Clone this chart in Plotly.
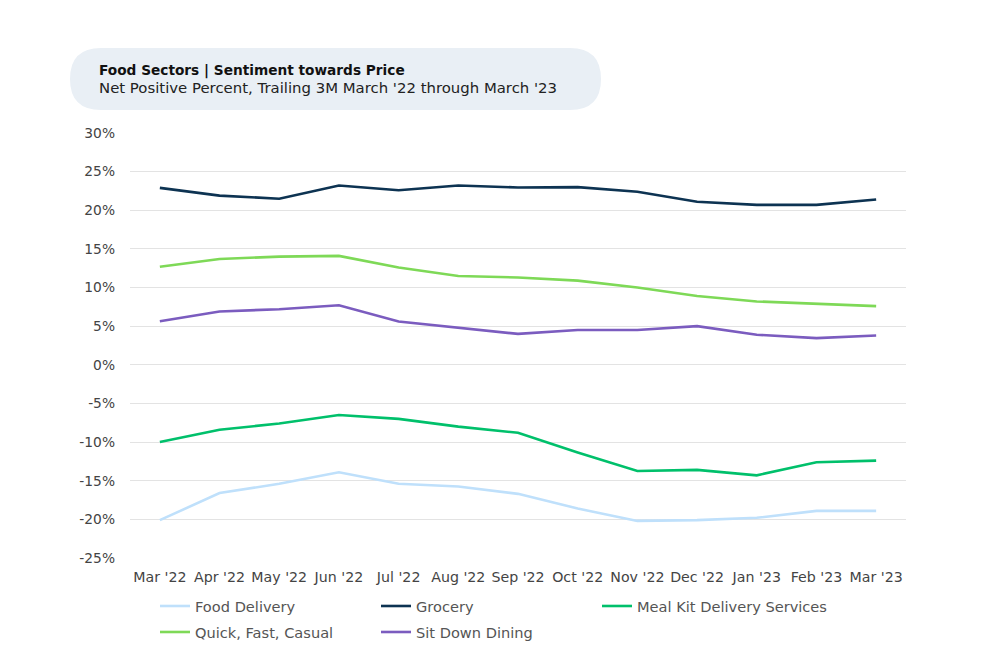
import plotly.graph_objects as go

months = ["Mar '22", "Apr '22", "May '22", "Jun '22", "Jul '22", "Aug '22", "Sep '22",
          "Oct '22", "Nov '22", "Dec '22", "Jan '23", "Feb '23", "Mar '23"]

food_delivery = [-20.1, -16.6, -15.4, -13.9, -15.4, -15.75, -16.7, -18.6, -20.2, -20.1, -19.8, -18.9, -18.9]
grocery = [22.9, 21.9, 21.5, 23.2, 22.6, 23.2, 22.95, 23.0, 22.4, 21.1, 20.7, 20.7, 21.4]
meal_kit = [-10.0, -8.4, -7.6, -6.5, -7.0, -8.0, -8.8, -11.35, -13.75, -13.6, -14.3, -12.6, -12.4]
quick = [12.7, 13.7, 14.0, 14.1, 12.6, 11.5, 11.3, 10.9, 10.0, 8.9, 8.2, 7.9, 7.6]
sit_down = [5.65, 6.9, 7.2, 7.7, 5.6, 4.8, 4.0, 4.5, 4.5, 5.0, 3.9, 3.45, 3.8]

y_ticks = [30, 25, 20, 15, 10, 5, 0, -5, -10, -15, -20, -25]
y_tick_labels = ["30%", "25%", "20%", "15%", "10%", "5%", "0%", "-5%", "-10%", "-15%", "-20%", "-25%"]

series = [
    ("Food Delivery", food_delivery, "#bfe0fb", "legend"),
    ("Grocery", grocery, "#0d3352", "legend"),
    ("Meal Kit Delivery Services", meal_kit, "#00c06b", "legend3"),
    ("Quick, Fast, Casual", quick, "#7ed957", "legend2"),
    ("Sit Down Dining", sit_down, "#7b5cbf", "legend2"),
]

title = "Food Sectors | Sentiment towards Price"
subtitle = "Net Positive Percent, Trailing 3M March '22 through March '23"

FONT = "DejaVu Sans"

fig = go.Figure()
for name, vals, color, lg in series:
    fig.add_trace(go.Scatter(x=months, y=vals, mode="lines", name=name, legend=lg,
                             line=dict(color=color, width=2.6)))

W, H = 995, 672
OFF = 8  # page body offset
# target plot area in screen pixels
PX0, PX1, PY0, PY1 = 130, 906, 133, 558
L = PX0 - OFF
T = PY0 - OFF
R = W - (PX1 - OFF)
B = H - (PY1 - OFF)
pw, ph = W - L - R, H - T - B

def px(x):
    return (x - OFF - L) / pw

def py(y):
    return (H - B - (y - OFF)) / ph

# rounded pill box in screen pixel coords -> paper
x0, x1, y0, y1, r = 70, 601, 48, 110, 31
path = (f"M {px(x0 + r)} {py(y0)} L {px(x1 - r)} {py(y0)} "
        f"Q {px(x1)} {py(y0)} {px(x1)} {py(y0 + r)} L {px(x1)} {py(y1 - r)} "
        f"Q {px(x1)} {py(y1)} {px(x1 - r)} {py(y1)} L {px(x0 + r)} {py(y1)} "
        f"Q {px(x0)} {py(y1)} {px(x0)} {py(y1 - r)} L {px(x0)} {py(y0 + r)} "
        f"Q {px(x0)} {py(y0)} {px(x0 + r)} {py(y0)} Z")
fig.add_shape(type="path", path=path, xref="paper", yref="paper",
              fillcolor="#e9eff5", line=dict(width=0), layer="below")

fig.add_annotation(x=px(97), y=py(70), xref="paper", yref="paper", xanchor="left", yanchor="middle",
                   text=f"<b>{title}</b>", showarrow=False,
                   font=dict(family=FONT, size=13.7, color="#111111"))
fig.add_annotation(x=px(97), y=py(88), xref="paper", yref="paper", xanchor="left", yanchor="middle",
                   text=subtitle, showarrow=False,
                   font=dict(family=FONT, size=14.9, color="#222222"))

legend_font = dict(family=FONT, size=14.6, color="#555555")
legend_common = dict(orientation="h", xanchor="left", yanchor="top",
                     font=legend_font, bgcolor="rgba(0,0,0,0)", tracegroupgap=0)

fig.update_layout(
    width=W, height=H,
    margin=dict(l=L, r=R, t=T, b=B),
    paper_bgcolor="white", plot_bgcolor="white",
    font=dict(family=FONT, size=13, color="#555555"),
    showlegend=True,
    legend=dict(x=px(155), y=py(590), entrywidth=176, entrywidthmode="pixels", **legend_common),
    legend2=dict(x=px(155), y=py(616), entrywidth=176, entrywidthmode="pixels", **legend_common),
    legend3=dict(x=px(597), y=py(590), **legend_common),
    xaxis=dict(showgrid=False, showline=False, zeroline=False, ticks="",
               range=[-0.5, len(months) - 0.5],
               tickfont=dict(family=FONT, size=14.2, color="#444444"), ticklabelstandoff=9),
    yaxis=dict(range=[-25, 30], tickvals=y_ticks, ticktext=y_tick_labels, showgrid=True,
               gridcolor="#e3e3e3", gridwidth=1, zeroline=False, showline=False,
               tickfont=dict(family=FONT, size=13.8, color="#444444"), ticklabelstandoff=14),
)

fig.write_html("out.html")
